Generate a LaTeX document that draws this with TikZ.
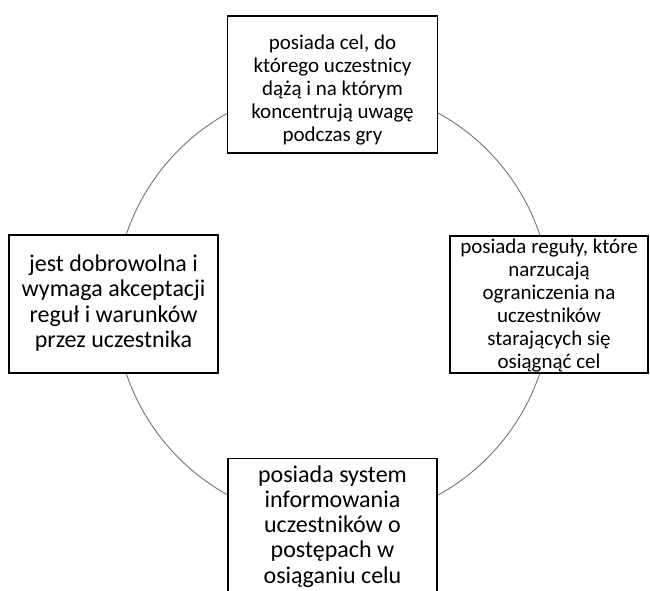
\documentclass[tikz,border=0pt]{standalone}
\usepackage{fontspec}
\setmainfont{Carlito}
\begin{document}
\begin{tikzpicture}[x=1pt,y=-1pt,
  frame/.style={draw=black, line width=1.4pt, fill=white, inner sep=0pt},
  label/.style={align=center, inner sep=0pt},
  smalltxt/.style={font=\fontsize{21}{22.9}\selectfont},
  largetxt/.style={font=\fontsize{24}{25.2}\selectfont},
  ring/.style={draw=black!55, line width=0.9pt}]
\useasboundingbox (0,0) rectangle (650,590);
\clip (0,0) rectangle (650,590);
% the cycle joining the four features
\coordinate (c) at (333,304);
\draw[ring] (c) circle[radius=218pt];
% frames
\node[frame, minimum width=210pt, minimum height=137pt] (goal) at (332.5,84.5) {};
\node[frame, minimum width=198pt, minimum height=137pt] (rules) at (549,304.5) {};
\node[frame, minimum width=209pt, minimum height=138pt] (volunt) at (113.5,304) {};
% the lowest frame runs past the lower edge
\node[frame, minimum width=209pt, minimum height=160pt, anchor=north] (feedback) at (332.5,458) {};
% texts
\node[label, smalltxt] (goal-t) at (332.5,90)
  {posiada cel, do\\którego uczestnicy\\dążą i na którym\\koncentrują uwagę\\podczas gry};
\node[label, smalltxt] (rules-t) at (549,305.5)
  {posiada reguły, które\\narzucają\\ograniczenia na\\uczestników\\starających się\\osiągnąć cel};
\node[label, largetxt] (volunt-t) at (113.5,303)
  {jest dobrowolna i\\wymaga akceptacji\\reguł i warunków\\przez uczestnika};
\node[label, largetxt] (feedback-t) at (332.5,526.5)
  {posiada system\\informowania\\uczestników o\\postępach w\\osiąganiu celu};
\end{tikzpicture}
\end{document}
